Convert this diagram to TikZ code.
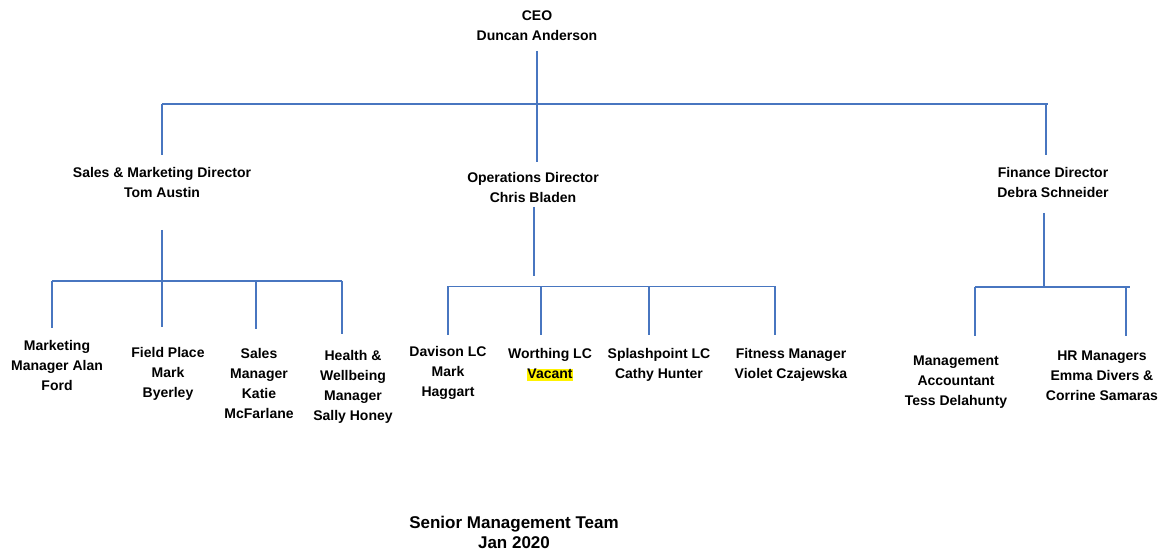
\documentclass[tikz,border=0pt]{standalone}
\usepackage{fontspec}
\setmainfont{Liberation Sans}
\usetikzlibrary{positioning,calc}
\definecolor{orgblue}{RGB}{72,118,192}
\newcommand{\vacantmark}[1]{{\setlength{\fboxsep}{0pt}\colorbox{yellow}{\rule[-2pt]{0pt}{12pt}#1}}}

\begin{document}
\begin{tikzpicture}[x=1pt,y=-1pt,
  role/.style={font=\bfseries\fontsize{14}{20}\selectfont,align=center,inner sep=0pt},
  title/.style={font=\bfseries\fontsize{17}{20}\selectfont,align=center,inner sep=0pt},
  link/.style={draw=orgblue,line width=1.2pt}]
\useasboundingbox (0,0) rectangle (1167,553);

% board
\node[role] (ceo) at (537,25.5) {CEO\\Duncan Anderson};
\node[role] (sales) at (162,182) {Sales \& Marketing Director\\Tom Austin};
\node[role] (ops) at (533,187.5) {Operations Director\\Chris Bladen};
\node[role] (fin) at (1053,182) {Finance Director\\Debra Schneider};

% sales team
\node[role] (mkt) at (57,365.5) {Marketing\\Manager Alan\\Ford};
\node[role] (field) at (168,373.5) {Field Place\\Mark\\Byerley};
\node[role] (salesmgr) at (259,383) {Sales\\Manager\\Katie\\McFarlane};
\node[role] (health) at (353,386.5) {Health \&\\Wellbeing\\Manager\\Sally Honey};

% operations team
\node[role] (davison) at (448,372.5) {Davison LC\\Mark\\Haggart};
\node[role] (worthing) at (550,364.5) {Worthing LC\\\vacantmark{Vacant}};
\node[role] (splash) at (659,364.5) {Splashpoint LC\\Cathy Hunter};
\node[role] (fitness) at (791,365) {Fitness Manager\\Violet Czajewska};

% finance team
\node[role] (mgmtacc) at (956,382.5) {Management\\Accountant\\Tess Delahunty};
\node[role] (hr) at (1102,375.5) {HR Managers\\Emma Divers \&\\Corrine Samaras};

\node[title] (smt) at (514,532) {Senior Management Team\\Jan 2020};

% top level
\coordinate (ceo-a) at (537,51);
\coordinate (ceo-b) at (537,162);
\coordinate (top-l) at (162,104);
\coordinate (top-r) at (1048,104);
\coordinate (sales-up) at (162,155);
\coordinate (fin-up) at (1046,155);
\draw[link] (ceo-a) -- (ceo-b);
\draw[link] (top-l) -- (top-r);
\draw[link] (top-l) -- (sales-up);
\draw[link] (fin-up |- top-r) -- (fin-up);

% sales branch
\coordinate (sales-a) at (162,230);
\coordinate (sbar-l) at (52,281);
\coordinate (sbar-r) at (342,281);
\draw[link] (sales-a) -- (sales-a |- sbar-l);
\draw[link] (sbar-l) -- (sbar-r);
\foreach \x/\y [count=\i] in {52/328,162/327,256/329,342/334} {
  \coordinate (sd\i) at (\x,\y);
  \draw[link] (sd\i |- sbar-l) -- (sd\i);
}

% operations branch
\coordinate (ops-a) at (534,207);
\coordinate (ops-b) at (534,276);
\coordinate (obar-l) at (448,286.5);
\coordinate (obar-r) at (776,286.5);
\draw[link] (ops-a) -- (ops-b);
\draw[link] (obar-l) -- (obar-r);
\foreach \x [count=\i] in {448,541,649,775} {
  \coordinate (od\i) at (\x,335);
  \draw[link] (od\i |- obar-l) -- (od\i);
}

% finance branch
\coordinate (fin-a) at (1044,213);
\coordinate (fbar-l) at (975,287);
\coordinate (fbar-r) at (1130,287);
\draw[link] (fin-a) -- (fin-a |- fbar-l);
\draw[link] (fbar-l) -- (fbar-r);
\foreach \x [count=\i] in {975,1126} {
  \coordinate (fd\i) at (\x,336);
  \draw[link] (fd\i |- fbar-l) -- (fd\i);
}
\end{tikzpicture}
\end{document}
